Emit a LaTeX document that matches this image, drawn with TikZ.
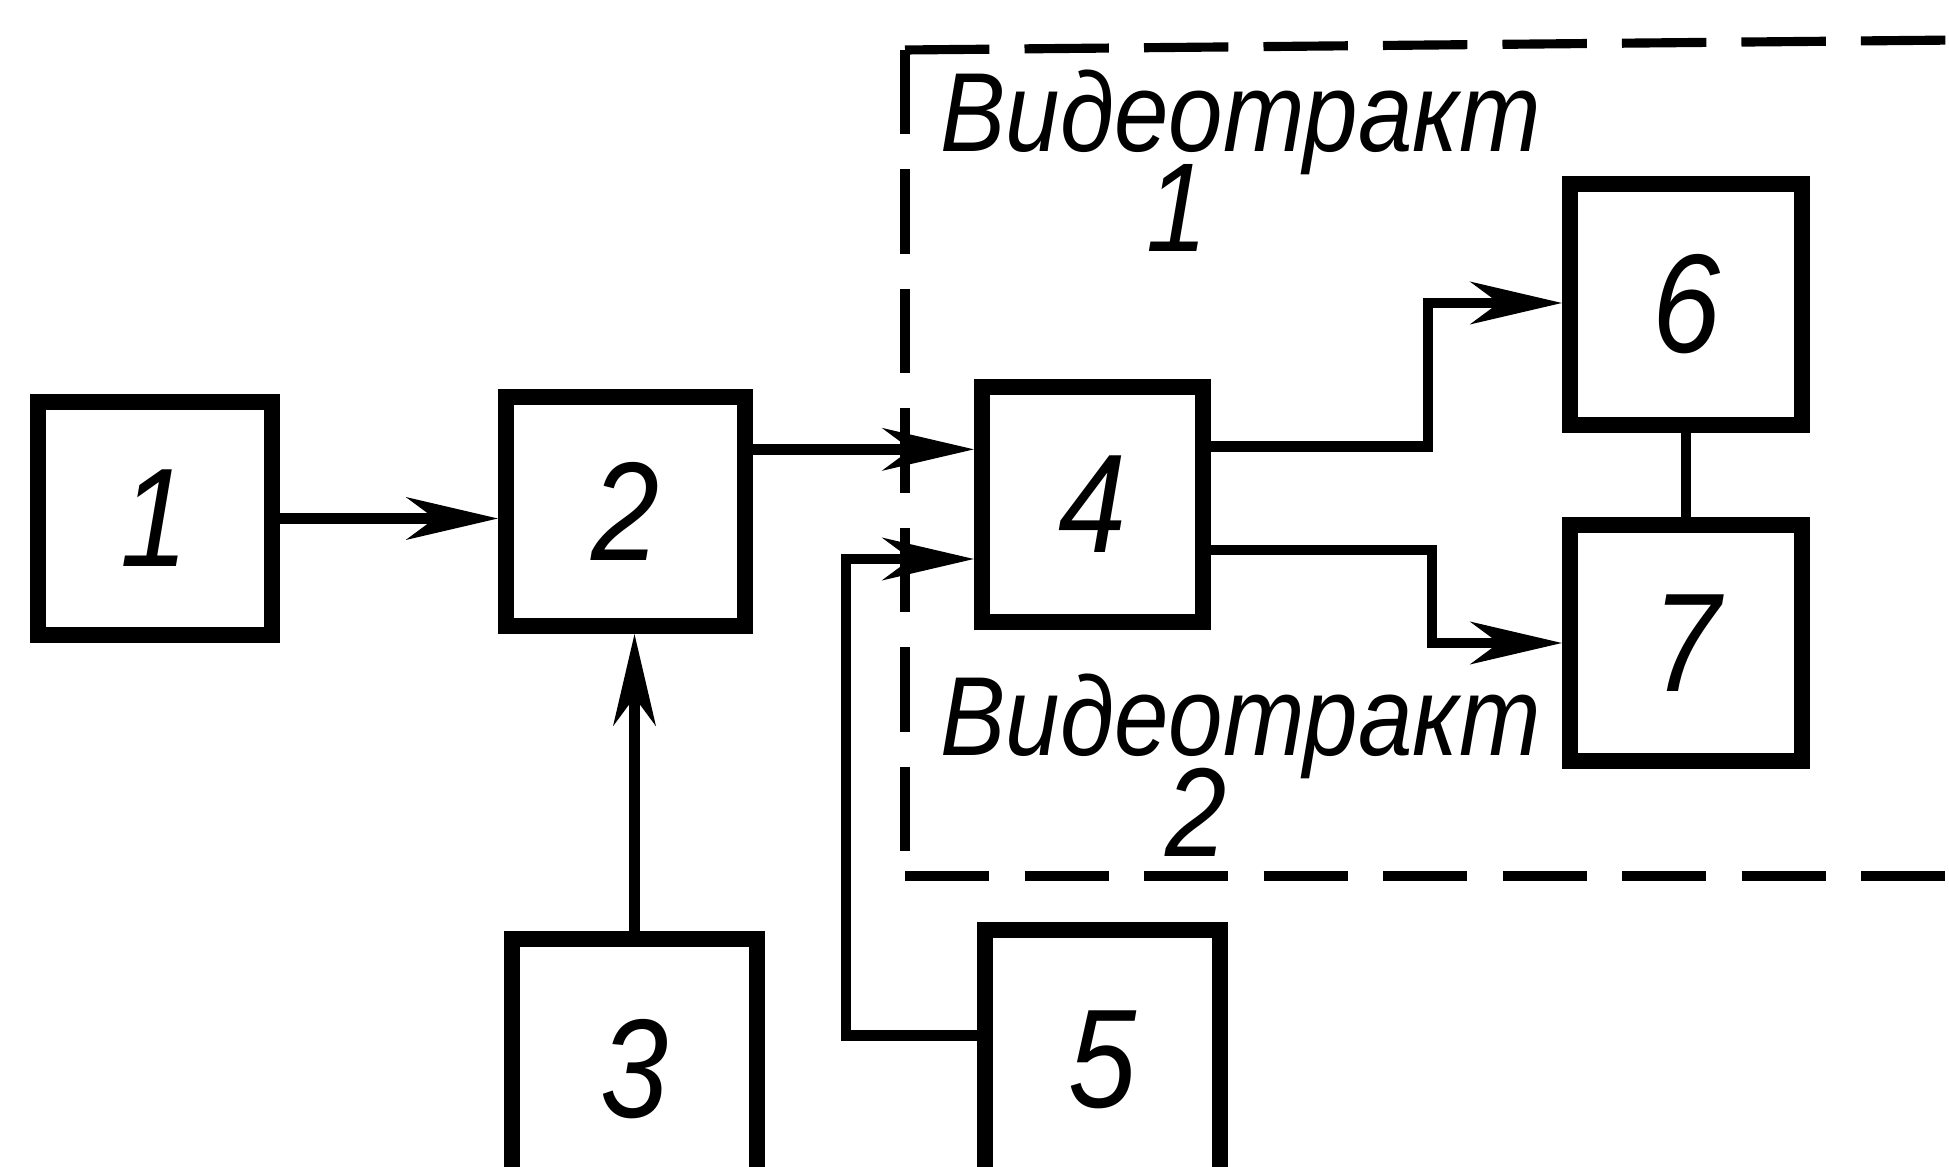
\documentclass[tikz,border=0pt]{standalone}
\usepackage{fontspec}
\setmainfont{Liberation Sans}[FakeStretch=0.87]
\usetikzlibrary{arrows.meta}

\newcommand{\boxfont}{\fontsize{40}{40}\selectfont\itshape}
\newcommand{\trackfont}{\fontsize{32}{32}\selectfont\itshape}

\tikzset{
  block/.style={draw, line width=4.5pt, inner sep=0pt, font=\boxfont},
  conn/.style={line width=3pt, -{Stealth[length=26pt, width=12pt, inset=8pt]}},
  link/.style={line width=3pt},
  frame/.style={line width=2.6pt, dash pattern=on 24pt off 10pt},
  tracklabel/.style={inner sep=0pt, font=\trackfont},
}

\begin{document}
\begin{tikzpicture}

	\useasboundingbox (0,0) rectangle (19.49,-11.67);
	\clip (0,0) rectangle (19.49,-11.67);

	% blocks
	\node[block, minimum width=2.34cm, minimum height=2.33cm] (b1) at (1.55,-5.185) {1};
	\node[block, minimum width=2.39cm, minimum height=2.29cm] (b2) at (6.255,-5.115) {2};
	\node[block, minimum width=2.45cm, minimum height=2.60cm] (b3) at (6.345,-10.69) {3};
	\node[block, minimum width=2.21cm, minimum height=2.35cm] (b4) at (10.925,-5.045) {4};
	\node[block, minimum width=2.35cm, minimum height=2.60cm] (b5) at (11.025,-10.60) {5};
	\node[block, minimum width=2.32cm, minimum height=2.41cm] (b6) at (16.86,-3.045) {6};
	\node[block, minimum width=2.32cm, minimum height=2.36cm] (b7) at (16.86,-6.43) {7};

	% video paths frame
	\coordinate (ftl) at (9.05,-0.50);
	\coordinate (fbl) at (9.05,-8.76);
	\draw[frame] (ftl) -- (19.60,-0.40);
	\draw[frame] (ftl) -- (fbl);
	\draw[frame] (fbl) -- (19.60,-8.76);

	\node[tracklabel, anchor=base west, text depth=0pt] (vt1) at (9.40,-1.52) {Видеотракт};
	\node[tracklabel, font=\fontsize{36}{36}\selectfont\itshape] (n1) at (11.77,-2.08) {1};

	\node[tracklabel, anchor=base west, text depth=0pt] (vt2) at (9.40,-7.55) {Видеотракт};
	\node[tracklabel, font=\fontsize{36}{36}\selectfont\itshape] (n2) at (11.96,-8.12) {2};

	% connections
	\coordinate (j5) at (8.46,-5.59);
	\coordinate (t6) at (14.28,-3.03);
	\coordinate (t7) at (14.32,-6.43);

	\draw[conn] (b1) -- (b1 -| b2.west);

	\draw[conn] (b3.north) -- (b3.north |- b2.south);

	\draw[conn] (b2.26) -- (b2.26 -| b4.west);

	\draw[conn]
    (b5.169)
    -| (j5)
    -- (j5 -| b4.west);

	\draw[conn]
    (b4.26)
    -| (t6)
    -- (t6 -| b6.west);

	\draw[conn]
    (b4.-21)
    -| (t7)
    -- (t7 -| b7.west);

	\draw[link] (b6) -- (b7);

\end{tikzpicture}
\end{document}
